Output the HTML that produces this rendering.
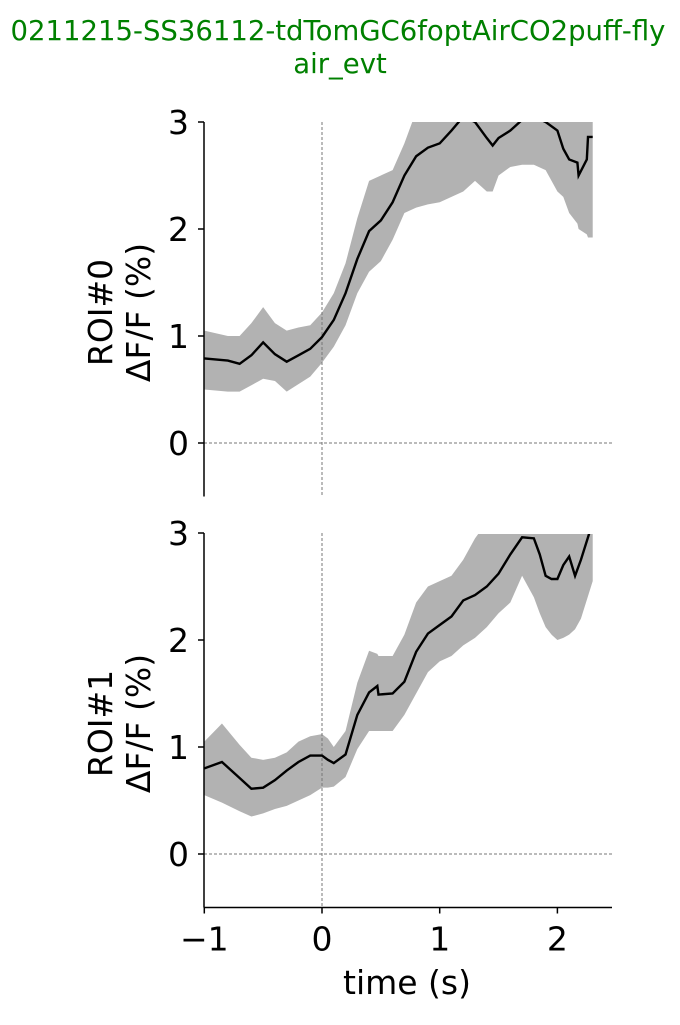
<!DOCTYPE html>
<html><head><meta charset="utf-8"><style>
body{margin:0;background:#fff;}
svg text{font-family:"DejaVu Sans","Liberation Sans",sans-serif;}
</style></head><body>
<svg id="chart" width="680" height="1020" xmlns="http://www.w3.org/2000/svg">
<text x="338" y="40" text-anchor="middle" font-size="27.5" fill="#008000">0211215-SS36112-tdTomGC6foptAirCO2puff-fly</text>
<text x="340" y="73" text-anchor="middle" font-size="27.5" fill="#008000">air_evt</text>
<defs>
<clipPath id="c0"><rect x="204" y="122" width="408" height="373"/></clipPath>
<clipPath id="c1"><rect x="204" y="534" width="408" height="374"/></clipPath>
</defs>
<g id="p0"></g>
<g id="p1"></g>
<text x="407" y="994" text-anchor="middle" font-size="33">time (s)</text>
</svg>
<script>
const t0 = [-1,-0.8,-0.7,-0.6,-0.5,-0.4,-0.3,-0.2,-0.1,0,0.1,0.2,0.3,0.4,0.5,0.6,0.7,0.8,0.9,1.0,1.1,1.2,1.3,1.4,1.45,1.5,1.6,1.7,1.8,1.9,2.0,2.05,2.1,2.17,2.18,2.25,2.26,2.3];
const mean0 = [0.79,0.77,0.74,0.82,0.94,0.83,0.76,0.82,0.88,0.99,1.15,1.40,1.72,1.98,2.08,2.25,2.5,2.68,2.76,2.80,2.92,3.05,3.0,2.85,2.78,2.85,2.92,3.02,3.05,3.0,2.92,2.75,2.65,2.62,2.5,2.65,2.86,2.86];
const lo0 = [0.5,0.48,0.48,0.54,0.6,0.58,0.48,0.55,0.62,0.75,0.9,1.1,1.4,1.6,1.7,1.9,2.15,2.2,2.23,2.25,2.3,2.35,2.45,2.35,2.35,2.5,2.58,2.6,2.6,2.55,2.35,2.3,2.15,2.05,2.0,1.95,1.92,1.92];
const hi0 = [1.05,1.0,1.0,1.12,1.27,1.12,1.05,1.08,1.1,1.22,1.4,1.68,2.1,2.45,2.5,2.55,2.8,3.1,3.3,3.3,3.3,3.3,3.3,3.3,3.3,3.3,3.3,3.3,3.3,3.3,3.3,3.3,3.3,3.3,3.3,3.3,3.3,3.3];
const t1 = [-1,-0.85,-0.7,-0.6,-0.5,-0.4,-0.3,-0.2,-0.1,0,0.05,0.1,0.2,0.3,0.4,0.47,0.48,0.6,0.7,0.8,0.9,1.0,1.1,1.2,1.3,1.4,1.5,1.6,1.7,1.8,1.85,1.9,1.95,2.0,2.05,2.1,2.15,2.2,2.3];
const mean1 = [0.8,0.86,0.71,0.61,0.62,0.69,0.78,0.86,0.92,0.92,0.88,0.85,0.93,1.3,1.51,1.57,1.49,1.5,1.61,1.89,2.06,2.14,2.22,2.37,2.42,2.5,2.62,2.8,2.96,2.95,2.8,2.6,2.57,2.57,2.7,2.78,2.6,2.75,3.1];
const lo1 = [0.55,0.48,0.4,0.35,0.38,0.42,0.45,0.5,0.55,0.62,0.62,0.63,0.72,0.98,1.15,1.15,1.15,1.15,1.3,1.5,1.7,1.8,1.85,1.95,2.02,2.12,2.25,2.35,2.6,2.4,2.25,2.12,2.05,2.0,2.02,2.05,2.1,2.2,2.55];
const hi1 = [1.05,1.22,1.02,0.9,0.88,0.9,0.95,1.05,1.1,1.12,1.08,1.0,1.15,1.6,1.9,1.87,1.85,1.85,2.05,2.35,2.5,2.55,2.6,2.75,2.95,3.1,3.3,3.3,3.3,3.3,3.3,3.3,3.3,3.3,3.3,3.3,3.3,3.3,3.3];
const xTicks = [-1,0,1,2];
const xTickLabels = ["\u22121","0","1","2"];
const yTicks = [0,1,2,3];

const NS="http://www.w3.org/2000/svg";
const xs = v => 322 + v*117.7;
function mk(tag, attrs, parent){const e=document.createElementNS(NS,tag);for(const k in attrs)e.setAttribute(k,attrs[k]);parent.appendChild(e);return e;}
function panel(gid, clip, yZero, t, m, lo, hi, label, showX){
  const g=document.getElementById(gid);
  const ys = v => yZero - v*107;
  const top = ys(3), bot = ys(-0.5);
  let d="M"+t.map((x,i)=>xs(x)+","+ys(hi[i])).join("L");
  for(let i=t.length-1;i>=0;i--) d+="L"+xs(t[i])+","+ys(lo[i]);
  const band=mk("path",{d:d+"Z",fill:"#b2b2b2","clip-path":"url(#"+clip+")"},g);
  
  
  const z=mk("line",{x1:204,x2:612,y1:ys(0),y2:ys(0),stroke:"#777","stroke-width":1,"stroke-dasharray":"3,2"},g);
  
  
  const v=mk("line",{x1:xs(0),x2:xs(0),y1:top,y2:bot,stroke:"#777","stroke-width":1,"stroke-dasharray":"3,2"},g);
  
  
  const ln=mk("path",{d:"M"+t.map((x,i)=>xs(x)+","+ys(m[i])).join("L"),fill:"none",stroke:"#000","stroke-width":2.4,"clip-path":"url(#"+clip+")"},g);
  
  
  const ax=mk("line",{x1:204,x2:204,y1:top,y2:bot,stroke:"#000","stroke-width":1.5},g);
  
  
  yTicks.forEach(yt=>{
    const tk=mk("line",{x1:198,x2:204,y1:ys(yt),y2:ys(yt),stroke:"#000","stroke-width":1.5},g);
    
    
    const tl=mk("text",{x:189,y:ys(yt)+12,"text-anchor":"end","font-size":33},g);
    tl.textContent=yt;
    
    
  });
  const yl=mk("text",{transform:"translate(112,"+ys(1.22)+") rotate(-90)","text-anchor":"middle","font-size":33},g);
  
  
  const s1=mk("tspan",{x:0,dy:0},yl);s1.textContent=label;
  const s2=mk("tspan",{x:0,dy:38},yl);s2.textContent="\u0394F/F (%)";
  if(showX){
    const xa=mk("line",{x1:204,x2:612,y1:bot,y2:bot,stroke:"#000","stroke-width":1.5},g);
    
    
    xTicks.forEach((xt,i)=>{
      const tk=mk("line",{x1:xs(xt),x2:xs(xt),y1:bot,y2:bot+6,stroke:"#000","stroke-width":1.5},g);
      
      
      const tl=mk("text",{x:xs(xt),y:bot+43,"text-anchor":"middle","font-size":33},g);
      tl.textContent=xTickLabels[i];
      
      
    });
  }
}
panel("p0","c0",443,t0,mean0,lo0,hi0,"ROI#0",false);
panel("p1","c1",854,t1,mean1,lo1,hi1,"ROI#1",true);
</script>
</body></html>
